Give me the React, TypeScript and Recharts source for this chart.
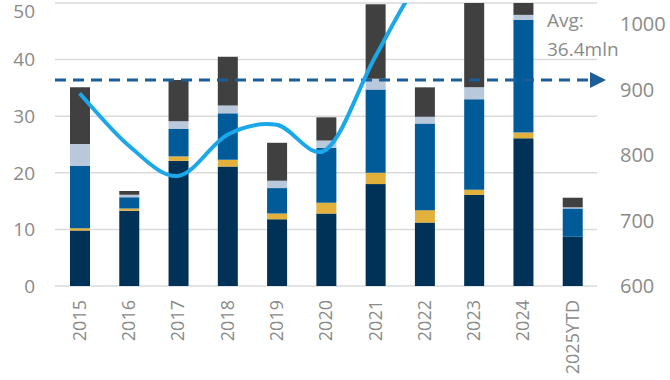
import {
  ComposedChart,
  Bar,
  Line,
  XAxis,
  YAxis,
  CartesianGrid,
  ReferenceLine,
} from "recharts";

// Categories
const years = ["2015", "2016", "2017", "2018", "2019", "2020", "2021", "2022", "2023", "2024", "2025YTD"];

// Stacked segments, bottom to top (left axis, mln)
const segmentA = [9.8, 13.3, 22.1, 21.1, 11.8, 12.8, 18.0, 11.2, 16.1, 26.1, 8.7];
const segmentB = [0.4, 0.4, 0.8, 1.2, 1.0, 1.9, 2.0, 2.2, 0.9, 1.0, 0];
const segmentC = [11.0, 2.0, 4.9, 8.2, 4.5, 9.7, 14.7, 15.3, 16.0, 19.9, 5.0];
const segmentD = [3.9, 0.4, 1.3, 1.4, 1.3, 1.3, 1.9, 1.2, 2.1, 0.9, 0.2];
const segmentE = [10.0, 0.7, 7.3, 8.6, 6.7, 4.1, 13.2, 5.2, 24.0, 4.1, 1.7];

// Line series (right axis)
const lineValues = [894, 814, 768, 831, 846, 808, 950, 1078, 1140, 1180, null];

const leftTicks = [0, 10, 20, 30, 40, 50];
const rightTicks = [600, 700, 800, 900, 1000];
const average = 36.4;
const avgLines = ["Avg:", "36.4mln"];

const COLORS = ["#003257", "#E2B13C", "#005B98", "#B9C8DA", "#404040"];
const LINE_COLOR = "#1AA8EA";
const AVG_COLOR = "#1B5E9B";
const TEXT_COLOR = "#8a8a8a";
const FONT = "'Open Sans', sans-serif";

const data = years.map((year, i) => ({
  year,
  a: segmentA[i],
  b: segmentB[i],
  c: segmentC[i],
  d: segmentD[i],
  e: segmentE[i],
  line: lineValues[i],
}));

// smooth curve through the points (catmull-rom style, like office charts)
const smoothCurve = (context: any) => {
  let pts: number[][] = [];
  return {
    areaStart() {},
    areaEnd() {},
    lineStart() {
      pts = [];
    },
    point(x: number, y: number) {
      pts.push([+x, +y]);
    },
    lineEnd() {
      if (!pts.length) return;
      context.moveTo(pts[0][0], pts[0][1]);
      for (let i = 0; i < pts.length - 1; i++) {
        const p0 = pts[Math.max(i - 1, 0)];
        const p1 = pts[i];
        const p2 = pts[i + 1];
        const p3 = pts[Math.min(i + 2, pts.length - 1)];
        context.bezierCurveTo(
          p1[0] + (p2[0] - p0[0]) / 6,
          p1[1] + (p2[1] - p0[1]) / 6,
          p2[0] - (p3[0] - p1[0]) / 6,
          p2[1] - (p3[1] - p1[1]) / 6,
          p2[0],
          p2[1]
        );
      }
    },
  };
};

const YearTick = ({ x, y, payload }: any) => (
  <text
    x={x}
    y={y}
    dy="0.35em"
    transform={`rotate(-90, ${x}, ${y})`}
    textAnchor="end"
    fill={TEXT_COLOR}
    fontSize={18}
    fontFamily={FONT}
  >
    {payload.value}
  </text>
);

const AvgArrow = (props: any) => {
  const { x1, x2, y1 } = props;
  const end = x2 - 7;
  return (
    <g>
      <line x1={x1} y1={y1} x2={end} y2={y1} stroke={AVG_COLOR} strokeWidth={3} strokeDasharray="11 7" />
      <polygon points={`${end},${y1 - 8} ${x2 + 9},${y1} ${end},${y1 + 8}`} fill={AVG_COLOR} />
      <text x={x2 - 50} y={y1 - 53} fill={TEXT_COLOR} fontSize={19} fontFamily={FONT}>
        {avgLines[0]}
      </text>
      <text x={x2 - 50} y={y1 - 24} fill={TEXT_COLOR} fontSize={19} fontFamily={FONT}>
        {avgLines[1]}
      </text>
    </g>
  );
};

const App = () => {
  return (
    <div style={{ position: "absolute", left: 0, top: 0, background: "#fff" }}>
      <ComposedChart width={670} height={380} data={data} margin={{ top: 3, right: 0, bottom: 0, left: 0 }}>
        <CartesianGrid yAxisId="left" vertical={false} stroke="#dadada" strokeWidth={1.5} />
        <XAxis
          dataKey="year"
          height={94}
          axisLine={false}
          tickLine={false}
          tickMargin={8}
          interval={0}
          tick={<YearTick />}
        />
        <YAxis
          yAxisId="left"
          width={55}
          domain={[0, 50]}
          ticks={leftTicks}
          allowDataOverflow
          axisLine={false}
          tickLine={false}
          tickSize={0}
          tickMargin={20}
          tick={{ fill: TEXT_COLOR, fontSize: 19, fontFamily: FONT }}
        />
        <YAxis
          yAxisId="right"
          orientation="right"
          width={73}
          domain={[600, 1032]}
          ticks={rightTicks}
          allowDataOverflow
          axisLine={false}
          tickLine={false}
          tickSize={0}
          tickMargin={23}
          tick={{ fill: TEXT_COLOR, fontSize: 20, fontFamily: FONT, textAnchor: "start" }}
        />
        <Bar yAxisId="left" dataKey="a" stackId="s" fill={COLORS[0]} barSize={20} isAnimationActive={false} />
        <Bar yAxisId="left" dataKey="b" stackId="s" fill={COLORS[1]} barSize={20} isAnimationActive={false} />
        <Bar yAxisId="left" dataKey="c" stackId="s" fill={COLORS[2]} barSize={20} isAnimationActive={false} />
        <Bar yAxisId="left" dataKey="d" stackId="s" fill={COLORS[3]} barSize={20} isAnimationActive={false} />
        <Bar yAxisId="left" dataKey="e" stackId="s" fill={COLORS[4]} barSize={20} isAnimationActive={false} />
        <ReferenceLine yAxisId="left" y={average} shape={<AvgArrow />} />
        <Line
          yAxisId="right"
          dataKey="line"
          type={smoothCurve as any}
          stroke={LINE_COLOR}
          strokeWidth={4}
          dot={false}
          activeDot={false}
          isAnimationActive={false}
        />
      </ComposedChart>
    </div>
  );
};

export default App;
